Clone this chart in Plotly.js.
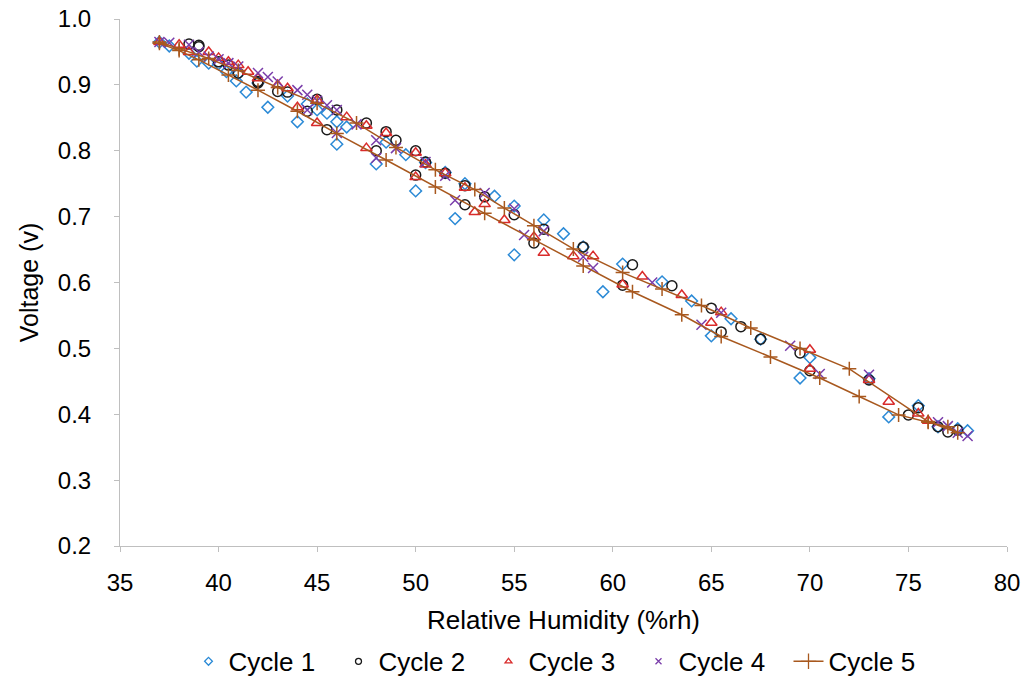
<!DOCTYPE html>
<html>
<head>
<meta charset="utf-8">
<script src="https://cdn.plot.ly/plotly-3.0.1.min.js"></script>
<style>html,body{margin:0;padding:0;background:#fff;}#chart{width:1026px;height:685px;}</style>
</head>
<body>
<div id="chart"></div>
<script>
// Cycle 1 (blue diamonds)
const c1x = [37, 37.5, 38.9, 39.5, 40.4, 40.9, 41.4, 42.5, 44, 46, 48, 50, 52, 55, 59.5, 65, 69.5, 74, 76.5, 78,
             77.5, 75.5, 73, 70, 67.5, 66, 64, 62.5, 60.5, 58.5, 57.5, 56.5, 55, 54, 52.5, 51.5, 50.5, 49.5, 48.5, 46.5, 46, 45.5, 45, 44.5, 43.5, 42, 41, 40, 38.5];
const c1y = [0.965, 0.959, 0.936, 0.933, 0.92, 0.906, 0.889, 0.866, 0.844, 0.81, 0.78, 0.739, 0.697, 0.642, 0.586, 0.519, 0.455, 0.396, 0.381, 0.375,
             0.378, 0.413, 0.454, 0.486, 0.514, 0.545, 0.572, 0.601, 0.628, 0.654, 0.674, 0.695, 0.716, 0.731, 0.75, 0.767, 0.782, 0.794, 0.813, 0.836, 0.844, 0.857, 0.862, 0.871, 0.883, 0.903, 0.917, 0.932, 0.948];
// Cycle 2 (black circles)
const c2x = [38.5, 39, 40, 41, 42, 43, 44.5, 45.5, 48, 50, 52.5, 56, 60.5, 65.5, 70, 75, 77, 77.5,
             76.5, 75.5, 73, 69.5, 67.5, 66.5, 65, 63, 61, 58.5, 56.5, 55, 53.5, 52.5, 51.5, 50.5, 50, 49, 48.5, 47.5, 46, 45, 43.5, 42, 40.5, 39];
const c2y = [0.962, 0.958, 0.935, 0.918, 0.903, 0.89, 0.86, 0.832, 0.8, 0.763, 0.718, 0.66, 0.596, 0.525, 0.466, 0.399, 0.373, 0.376,
             0.381, 0.41, 0.452, 0.493, 0.514, 0.533, 0.561, 0.595, 0.627, 0.654, 0.681, 0.703, 0.73, 0.747, 0.766, 0.783, 0.8, 0.816, 0.829, 0.842, 0.862, 0.878, 0.889, 0.905, 0.93, 0.96];
// Cycle 3 (red triangles)
const c3x = [37, 38, 38.5, 39.5, 40, 40.5, 41, 41.5, 42, 43, 43.5, 44, 45, 45, 46.5, 47.5, 47.5, 48.5, 50, 50, 50.5, 51.5, 52.5, 53, 53.5, 54.5, 56, 56.5, 58, 59, 60.5, 61.5, 63.5, 65, 65.5, 70, 70, 73, 74, 75.5, 76];
const c3y = [0.965, 0.961, 0.95, 0.95, 0.941, 0.935, 0.93, 0.92, 0.91, 0.9, 0.895, 0.866, 0.877, 0.842, 0.851, 0.838, 0.804, 0.827, 0.797, 0.76, 0.779, 0.766, 0.744, 0.707, 0.719, 0.695, 0.669, 0.645, 0.64, 0.64, 0.597, 0.609, 0.581, 0.539, 0.555, 0.498, 0.469, 0.452, 0.419, 0.401, 0.39];
// Cycle 4 (purple crosses)
const c4x = [37, 37.5, 38.5, 39, 39.5, 40, 40.5, 41, 42, 42.5, 43, 44, 44.5, 44.5, 45, 45.5, 46, 46, 47, 48, 48, 49, 50.5, 51.5, 52, 53.5, 55, 55.5, 56.5, 58.5, 59, 62, 64.5, 65.5, 69, 70.5, 73, 76.5, 77, 77.5, 78];
const c4y = [0.965, 0.964, 0.961, 0.95, 0.943, 0.939, 0.933, 0.928, 0.918, 0.912, 0.905, 0.892, 0.885, 0.862, 0.876, 0.869, 0.862, 0.827, 0.84, 0.816, 0.789, 0.804, 0.783, 0.762, 0.725, 0.736, 0.712, 0.672, 0.678, 0.639, 0.622, 0.6, 0.536, 0.554, 0.504, 0.461, 0.46, 0.388, 0.382, 0.372, 0.367];
// Cycle 5 (brown line with plus markers), loop: rising branch then returning branch
const c5x = [37, 38, 39, 40.5, 42, 44, 46, 48.5, 51, 53.5, 56, 58.5, 61, 63.5, 65.5, 68, 70.5, 72.5, 74.5, 76, 77, 77.5,
             76, 72, 69.5, 67, 64.5, 62.5, 60.5, 58, 56, 54.5, 53, 51, 49, 47, 45, 43, 41, 39.5, 38, 37];
const c5y = [0.963, 0.952, 0.938, 0.915, 0.892, 0.86, 0.826, 0.786, 0.745, 0.705, 0.665, 0.625, 0.586, 0.551, 0.518, 0.487, 0.455, 0.427, 0.399, 0.388, 0.381, 0.372,
             0.389, 0.469, 0.5, 0.531, 0.565, 0.59, 0.615, 0.651, 0.686, 0.713, 0.741, 0.771, 0.805, 0.842, 0.872, 0.896, 0.922, 0.94, 0.955, 0.965];

const seriesNames = ['Cycle 1', 'Cycle 2', 'Cycle 3', 'Cycle 4', 'Cycle 5'];
const xTicks = [35, 40, 45, 50, 55, 60, 65, 70, 75, 80];
const yTicks = [0.2, 0.3, 0.4, 0.5, 0.6, 0.7, 0.8, 0.9, 1.0];
const yTickText = ['0.2', '0.3', '0.4', '0.5', '0.6', '0.7', '0.8', '0.9', '1.0'];

const FONT = 'Liberation Sans, Arial, sans-serif';
const styles = [
  {symbol: 'diamond-open', color: '#2B8AD6', size: 9},
  {symbol: 'circle-open', color: '#1a1a1a', size: 10},
  {symbol: 'triangle-up-open', color: '#D92B2B', size: 10},
  {symbol: 'x-thin-open', color: '#7A3DAA', size: 10},
  {symbol: 'cross-thin-open', color: '#A8581E', size: 10}
];
const xs = [c1x, c2x, c3x, c4x, c5x];
const ys = [c1y, c2y, c3y, c4y, c5y];

const traces = [];
for (let i = 0; i < 5; i++) {
  const s = styles[i];
  const isLine = i === 4;
  traces.push({
    x: xs[i], y: ys[i], name: seriesNames[i], type: 'scatter',
    mode: isLine ? 'lines+markers' : 'markers', showlegend: false,
    line: {color: s.color, width: 1.5},
    marker: {symbol: s.symbol, size: s.size, color: s.color, line: {width: 1.5, color: s.color}}
  });
}
// legend entries with small symbols, as in the original
for (let i = 0; i < 5; i++) {
  const s = styles[i];
  const isLine = i === 4;
  traces.push({
    x: [null], y: [null], name: seriesNames[i], type: 'scatter',
    mode: isLine ? 'lines+markers' : 'markers', showlegend: true,
    line: {color: s.color, width: 1.5},
    marker: {symbol: s.symbol, size: isLine ? 11 : 6, color: s.color, line: {width: 1.3, color: s.color}}
  });
}

const layout = {
  width: 1026, height: 685,
  margin: {l: 120, r: 19, t: 19, b: 139, autoexpand: false},
  paper_bgcolor: '#fff', plot_bgcolor: '#fff',
  font: {family: FONT, size: 24, color: '#000'},
  showlegend: true,
  legend: {orientation: 'h', x: 0.5, xanchor: 'center', y: -0.219, yanchor: 'middle',
           font: {family: FONT, size: 26, color: '#000'}, itemwidth: 30, traceorder: 'normal',
           entrywidth: 105, entrywidthmode: 'pixels'},
  xaxis: {
    range: [35, 80], tickmode: 'array', tickvals: xTicks,
    ticktext: xTicks.map(String), automargin: false,
    showgrid: false, zeroline: false, showline: true, linecolor: '#BFBFBF', linewidth: 1,
    ticks: 'outside', ticklen: 5, tickcolor: '#BFBFBF', ticklabelstandoff: 10,
    tickfont: {family: FONT, size: 24, color: '#000'},
    title: {text: 'Relative Humidity (%rh)', font: {family: FONT, size: 26, color: '#000'}, standoff: 16}
  },
  yaxis: {
    range: [0.2, 1.0], tickmode: 'array', tickvals: yTicks,
    ticktext: yTickText, automargin: false,
    showgrid: false, zeroline: false, showline: true, linecolor: '#BFBFBF', linewidth: 1,
    ticks: 'outside', ticklen: 5, tickcolor: '#BFBFBF', ticklabelstandoff: 18,
    tickfont: {family: FONT, size: 24, color: '#000'},
    title: {text: 'Voltage (v)', font: {family: FONT, size: 25, color: '#000'}, standoff: 12}
  }
};

Plotly.newPlot('chart', traces, layout, {displayModeBar: false, staticPlot: true});
</script>
</body>
</html>
